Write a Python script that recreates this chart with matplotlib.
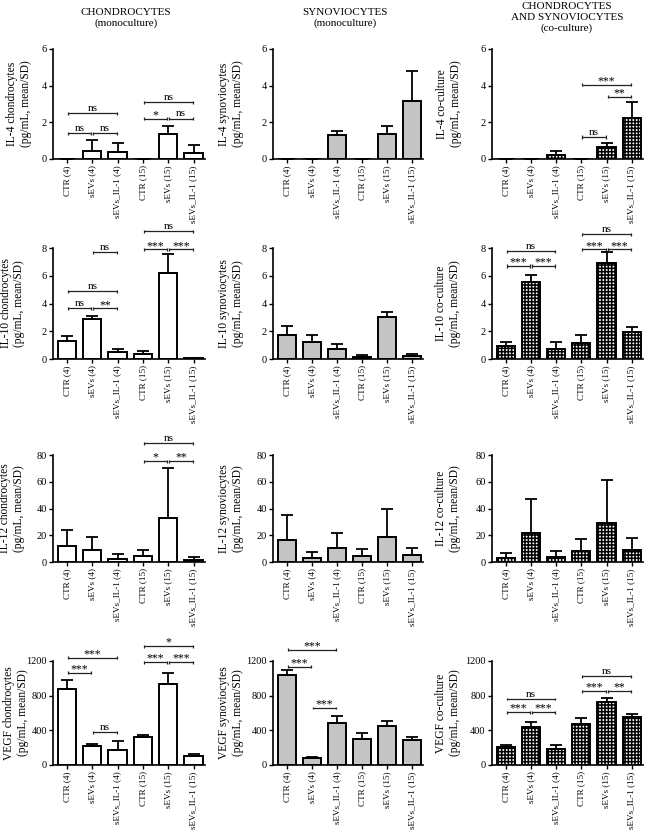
import matplotlib
matplotlib.use("Agg")
import matplotlib.pyplot as plt

plt.rcParams['font.family'] = ['Liberation Serif', 'DejaVu Serif']
plt.rcParams['hatch.linewidth'] = 1.1
plt.rcParams['hatch.color'] = 'black'

# categories on the x axis (same for every panel)
categories = ["CTR (4)", "sEVs (4)", "sEVs_IL-1 (4)", "CTR (15)", "sEVs (15)", "sEVs_IL-1 (15)"]

col_titles = ["CHONDROCYTES\n(monoculture)", "SYNOVIOCYTES\n(monoculture)",
              "CHONDROCYTES\nAND SYNOVIOCYTES\n(co-culture)"]
markers = ["IL-4", "IL-10", "IL-12", "VEGF"]
cells = ["chondrocytes", "synoviocytes", "co-culture"]

y_max = [6, 8, 80, 1200]
y_step = [2, 2, 20, 400]

# IL-4
il4_chondro = [0, 0.44, 0.40, 0, 1.37, 0.35]
il4_chondro_sd = [0, 0.57, 0.46, 0, 0.43, 0.42]
il4_synovio = [0, 0, 1.31, 0, 1.35, 3.15]
il4_synovio_sd = [0, 0, 0.24, 0, 0.45, 1.67]
il4_co = [0, 0, 0.20, 0, 0.67, 2.25]
il4_co_sd = [0, 0, 0.22, 0, 0.22, 0.88]

# IL-10
il10_chondro = [1.30, 2.86, 0.50, 0.36, 6.20, 0.05]
il10_chondro_sd = [0.33, 0.25, 0.25, 0.20, 1.40, 0.05]
il10_synovio = [1.76, 1.20, 0.75, 0.15, 3.02, 0.22]
il10_synovio_sd = [0.60, 0.56, 0.30, 0.16, 0.35, 0.17]
il10_co = [0.91, 5.58, 0.75, 1.15, 6.95, 1.97]
il10_co_sd = [0.30, 0.46, 0.45, 0.55, 0.75, 0.37]

# IL-12
il12_chondro = [11.7, 8.7, 2.5, 4.5, 33.0, 1.5]
il12_chondro_sd = [12.5, 10.0, 3.8, 4.7, 37.5, 2.0]
il12_synovio = [16.5, 3.3, 10.3, 4.8, 19.0, 5.5]
il12_synovio_sd = [18.5, 4.2, 11.2, 4.7, 20.7, 5.2]
il12_co = [3.2, 21.9, 4.0, 8.0, 29.2, 9.0]
il12_co_sd = [3.3, 25.0, 4.0, 9.0, 31.8, 9.2]

# VEGF
vegf_chondro = [882, 218, 176, 318, 935, 100]
vegf_chondro_sd = [96, 24, 104, 31, 123, 23]
vegf_synovio = [1041, 81, 480, 298, 445, 286]
vegf_synovio_sd = [59, 16, 81, 74, 58, 35]
vegf_co = [202, 438, 190, 469, 731, 552]
vegf_co_sd = [34, 57, 39, 68, 39, 38]

# significance brackets: (from bar, to bar, height, label)
il4_chondro_sig = [(0, 1, 1.4, 'ns'), (1, 2, 1.4, 'ns'), (0, 2, 2.5, 'ns'),
                   (3, 4, 2.2, '*'), (4, 5, 2.2, 'ns'), (3, 5, 3.1, 'ns')]
il4_co_sig = [(3, 4, 1.2, 'ns'), (4, 5, 3.4, '**'), (3, 5, 4.05, '***')]
il10_chondro_sig = [(0, 1, 3.65, 'ns'), (1, 2, 3.65, '**'), (0, 2, 4.88, 'ns'),
                    (1, 2, 7.7, 'ns'), (3, 4, 7.9, '***'), (4, 5, 7.9, '***'),
                    (3, 5, 9.2, 'ns')]
il10_co_sig = [(0, 1, 6.7, '***'), (1, 2, 6.7, '***'), (0, 2, 7.76, 'ns'),
               (3, 4, 7.9, '***'), (4, 5, 7.9, '***'), (3, 5, 9.0, 'ns')]
il12_chondro_sig = [(3, 4, 75.5, '*'), (4, 5, 75.5, '**'), (3, 5, 88.7, 'ns')]
vegf_chondro_sig = [(0, 1, 1066, '***'), (0, 2, 1238, '***'), (1, 2, 376, 'ns'),
                    (3, 4, 1185, '***'), (4, 5, 1185, '***'), (3, 5, 1372, '*')]
vegf_synovio_sig = [(0, 1, 1134, '***'), (0, 2, 1332, '***'), (1, 2, 658, '***')]
vegf_co_sig = [(0, 1, 610, '***'), (1, 2, 610, '***'), (0, 2, 762, 'ns'),
               (3, 4, 853, '***'), (4, 5, 853, '**'), (3, 5, 1025, 'ns')]

panels = [
    [(il4_chondro, il4_chondro_sd, il4_chondro_sig),
     (il4_synovio, il4_synovio_sd, []),
     (il4_co, il4_co_sd, il4_co_sig)],
    [(il10_chondro, il10_chondro_sd, il10_chondro_sig),
     (il10_synovio, il10_synovio_sd, []),
     (il10_co, il10_co_sd, il10_co_sig)],
    [(il12_chondro, il12_chondro_sd, il12_chondro_sig),
     (il12_synovio, il12_synovio_sd, []),
     (il12_co, il12_co_sd, [])],
    [(vegf_chondro, vegf_chondro_sd, vegf_chondro_sig),
     (vegf_synovio, vegf_synovio_sd, vegf_synovio_sig),
     (vegf_co, vegf_co_sd, vegf_co_sig)],
]

W, H = 647, 831
# layout in pixels
col_left = [53, 273, 492]
col_width = [152, 150, 151]
row_top = [49, 248, 455, 661]
row_bottom = [159, 359, 562, 765]
ylabel_x = [[19, 231, 449], [12.5, 231, 448], [12, 231, 448], [16, 231, 448]]
title_x = [126, 345, 567]

face = ['white', '#c4c4c4', 'white']
hatch = [None, None, '+++++']


def draw_bracket(ax, i, j, y, label, ymax):
    x1, x2 = i + 0.04, j - 0.04
    h = 0.014 * ymax
    kw = dict(color='#222222', lw=0.9, clip_on=False, solid_capstyle='butt')
    ax.plot([x1, x2], [y, y], **kw)
    ax.plot([x1, x1], [y - h, y + h], **kw)
    ax.plot([x2, x2], [y - h, y + h], **kw)
    if 'ns' in label:
        ax.annotate(label, xy=((x1 + x2) / 2, y), xytext=(0, 0.3), textcoords='offset points',
                    ha='center', va='bottom', fontsize=8, annotation_clip=False)
    else:
        ax.annotate(label, xy=((x1 + x2) / 2, y), xytext=(0, -1.8), textcoords='offset points',
                    ha='center', va='bottom', fontsize=8.5, annotation_clip=False)


fig = plt.figure(figsize=(W / 100, H / 100), dpi=100)

for c in range(3):
    fig.text(title_x[c] / W, 1 - (18 if c < 2 else 17.5) / H, col_titles[c],
             ha='center', va='center', fontsize=8, linespacing=1.2)

for r in range(4):
    for c in range(3):
        means, sds, sig = panels[r][c]
        ax = fig.add_axes([col_left[c] / W, 1 - row_bottom[r] / H,
                           col_width[c] / W, (row_bottom[r] - row_top[r]) / H])
        x = list(range(len(categories)))
        ax.bar(x, means, width=0.72, color=face[c], edgecolor='black', linewidth=1.4,
               hatch=hatch[c], zorder=2)
        ax.errorbar(x, means, yerr=[[0] * len(sds), sds], fmt='none', ecolor='black',
                    elinewidth=1.3, capsize=4, capthick=1.3, zorder=3)
        ax.set_xlim(-0.55, 5.45)
        ax.set_ylim(0, y_max[r])
        ax.set_yticks(range(0, y_max[r] + 1, y_step[r]))
        ax.set_xticks(x)
        ax.set_xticklabels(categories, rotation=90, fontsize=6.6)
        ax.tick_params(axis='y', labelsize=7.5, length=3, width=1, pad=1.5)
        ax.tick_params(axis='x', length=3, width=1, pad=1.5)
        for s in ['top', 'right']:
            ax.spines[s].set_visible(False)
        for s in ['left', 'bottom']:
            ax.spines[s].set_linewidth(1.2)
        for (i, j, y, lab) in sig:
            draw_bracket(ax, i, j, y, lab, y_max[r])
        fig.text(ylabel_x[r][c] / W, 1 - (row_top[r] + row_bottom[r]) / 2 / H,
                 f"{markers[r]} {cells[c]}\n(pg/mL, mean/SD)", rotation=90,
                 ha='center', va='center', fontsize=8.3, linespacing=1.2)

fig.savefig("out.png", dpi=100)
